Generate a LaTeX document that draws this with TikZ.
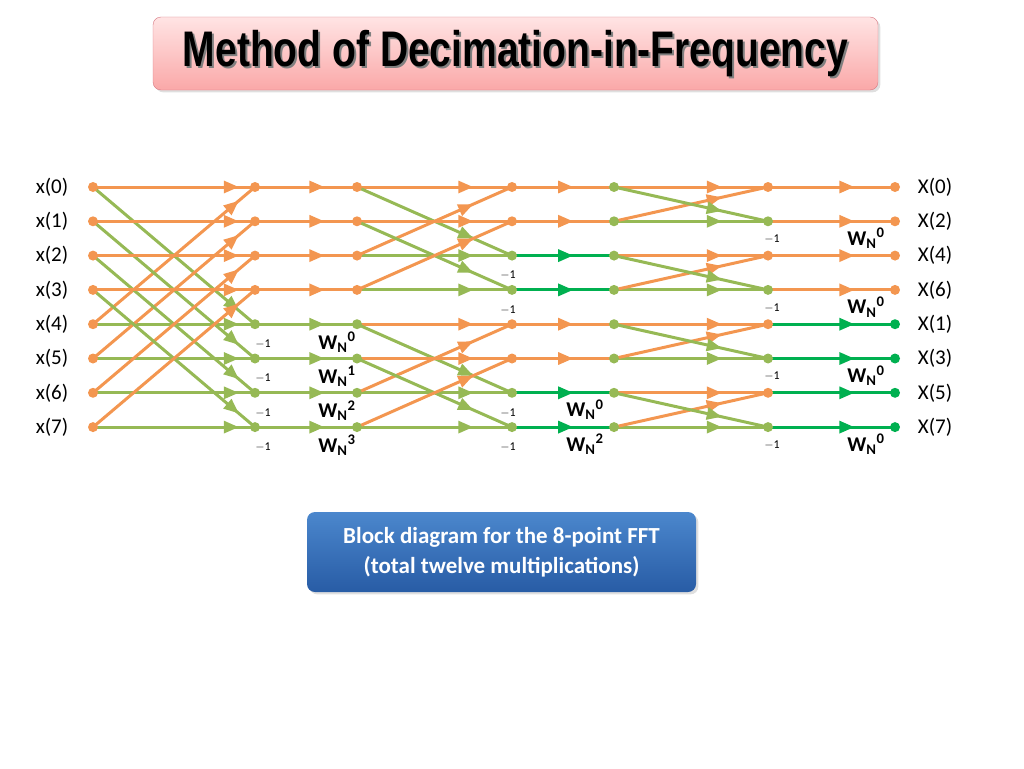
\documentclass[tikz,border=0pt]{standalone}
\usepackage{fontspec}
\setmainfont{Carlito}
\newfontfamily\titlefont{Liberation Sans}
\usetikzlibrary{arrows.meta, decorations.markings, shadows}
\definecolor{orng}{RGB}{243,150,80}
\definecolor{olive}{RGB}{150,185,85}
\definecolor{brgreen}{RGB}{0,176,80}
\definecolor{pinktop}{RGB}{255,228,228}
\definecolor{pinkbot}{RGB}{250,168,168}
\definecolor{bluetop}{RGB}{75,135,205}
\definecolor{bluebot}{RGB}{40,92,165}
\tikzset{
  flow/.style={line width=3pt, postaction={decorate, decoration={markings,
      mark=at position #1 with {\arrow{Triangle[length=15pt,width=12pt]}}}}},
  ofl/.style={flow=#1, orng},
  gfl/.style={flow=#1, olive},
  bfl/.style={flow=#1, brgreen},
  dot/.style={circle, fill=#1, inner sep=0pt, minimum size=10pt},
  lbl/.style={font=\fontsize{21}{21}\selectfont},
  wlbl/.style={font=\fontsize{21}{21}\selectfont\bfseries},
}
\newcommand{\WN}[1]{W\textsubscript{N}\textsuperscript{#1}}
\begin{document}
\begin{tikzpicture}[x=1pt, y=-1pt]
  \useasboundingbox (0,0) rectangle (1024,768);

  % title
  \node[draw={rgb,255:red,215;green,120;blue,130}, rounded corners=8pt, top color=pinktop,
        bottom color=pinkbot, minimum width=725pt, minimum height=73pt,
        drop shadow={opacity=0.25}] (title) at (515.5,53.5) {};
  \node[gray, xscale=0.78, font=\titlefont\bfseries\fontsize{50}{50}\selectfont] at (517.5,55.5) {Method of Decimation-in-Frequency};
  \node[black, xscale=0.78, font=\titlefont\bfseries\fontsize{50}{50}\selectfont] (ttext) at (515.5,53.5) {Method of Decimation-in-Frequency};

  % grid of points
  \foreach \c/\x in {0/93,1/255,2/357,3/512,4/614,5/768,6/895}
    \foreach \r in {0,...,7}
      \coordinate (n\c\r) at (\x, {187+34.3*\r});

  % stage 1
  \foreach \r in {0,...,3} {
    \pgfmathtruncatemacro\s{\r+4}
    \draw[ofl=0.9] (n0\r) -- (n1\r);
    \draw[gfl=0.9] (n0\s) -- (n1\s);
    \draw[gfl=0.9] (n0\r) -- (n1\s);
    \draw[ofl=0.9] (n0\s) -- (n1\r);
  }
  % stage 2
  \foreach \r in {0,...,3} \draw[ofl=0.68] (n1\r) -- (n2\r);
  \foreach \r in {4,...,7} \draw[gfl=0.68] (n1\r) -- (n2\r);
  % stage 3
  \foreach \r in {0,1,4,5} {
    \pgfmathtruncatemacro\s{\r+2}
    \draw[gfl=0.75] (n2\s) -- (n3\s);
    \draw[ofl=0.75] (n2\r) -- (n3\r);
    \draw[gfl=0.75] (n2\r) -- (n3\s);
    \draw[ofl=0.75] (n2\s) -- (n3\r);
  }
  % stage 4
  \foreach \r in {0,1,4,5} \draw[ofl=0.6] (n3\r) -- (n4\r);
  \foreach \r in {2,3,6,7} \draw[bfl=0.6] (n3\r) -- (n4\r);
  % stage 5
  \foreach \r in {0,2,4,6} {
    \pgfmathtruncatemacro\s{\r+1}
    \draw[ofl=0.7] (n4\r) -- (n5\r);
    \draw[gfl=0.7] (n4\s) -- (n5\s);
    \draw[ofl=0.7] (n4\s) -- (n5\r);
    \draw[gfl=0.7] (n4\r) -- (n5\s);
  }
  % stage 6
  \foreach \r in {0,...,3} \draw[ofl=0.68] (n5\r) -- (n6\r);
  \foreach \r in {4,...,7} \draw[bfl=0.68] (n5\r) -- (n6\r);

  % dots
  \foreach \r in {0,...,7} \node[dot=orng] at (n0\r) {};
  \foreach \r in {0,...,3} {
    \node[dot=orng] at (n1\r) {};
    \node[dot=orng] at (n2\r) {};
    \node[dot=orng] at (n6\r) {};
  }
  \foreach \r in {4,...,7} {
    \node[dot=olive] at (n1\r) {};
    \node[dot=olive] at (n2\r) {};
    \node[dot=brgreen] at (n6\r) {};
  }
  \foreach \r in {0,1,4,5} \node[dot=orng] at (n3\r) {};
  \foreach \r in {2,3,6,7} \node[dot=olive] at (n3\r) {};
  \foreach \r in {0,...,7} \node[dot=olive] at (n4\r) {};
  \foreach \r in {0,2,4,6} \node[dot=orng] at (n5\r) {};
  \foreach \r in {1,3,5,7} \node[dot=olive] at (n5\r) {};

  % inputs and outputs
  \foreach \r in {0,...,7}
    \node[lbl] (in\r) at (52, {187+34.3*\r}) {x(\r)};
  \foreach \k [count=\r from 0] in {0,2,4,6,1,3,5,7}
    \node[lbl] (out\r) at (935, {187+34.3*\r}) {X(\k)};

  % factors
  \foreach \r in {4,...,7} \node[lbl] at ([shift={(8,20)}]n1\r) {\large$-$1};
  \foreach \r in {2,3,6,7} \node[lbl] at ([shift={(-4,20)}]n3\r) {\large$-$1};
  \foreach \r in {1,3,5,7} \node[lbl] at ([shift={(4,18)}]n5\r) {\large$-$1};
  \foreach \r/\k in {4/0,5/1,6/2,7/3} \node[wlbl] at ([shift={(-20,18)}]n2\r) {\WN{\k}};
  \node[wlbl] at ([shift={(-29,17)}]n46) {\WN{0}};
  \node[wlbl] at ([shift={(-29,17)}]n47) {\WN{2}};
  \foreach \r in {1,3,5,7} \node[wlbl] at ([shift={(-29,17)}]n6\r) {\WN{0}};

  % caption
  \node[rounded corners=8pt, top color=bluetop, bottom color=bluebot, text=white,
        minimum width=389pt, minimum height=80pt, align=center,
        font=\fontsize{23}{30}\selectfont\bfseries, drop shadow={opacity=0.25}]
    (caption) at (501.5,552) {Block diagram for the 8-point FFT\\(total twelve multiplications)};
\end{tikzpicture}
\end{document}
